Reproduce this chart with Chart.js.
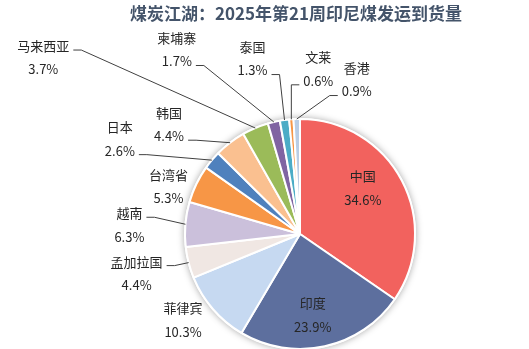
<!DOCTYPE html>
<html>
<head>
<meta charset="utf-8">
<script src="https://cdn.jsdelivr.net/npm/chart.js@4/dist/chart.umd.min.js"></script>
<style>
  html, body { margin: 0; padding: 0; background: #fff; }
  #wrap { width: 529px; height: 349px; }
</style>
</head>
<body>
<div id="wrap"><canvas id="pie" width="529" height="349"></canvas></div>
<script>
const chartTitle = '煤炭江湖：2025年第21周印尼煤发运到货量';
const regions = ['中国', '印度', '菲律宾', '孟加拉国', '越南', '台湾省', '日本', '韩国', '马来西亚', '柬埔寨', '泰国', '文莱', '香港'];
const shares = [34.6, 23.9, 10.3, 4.4, 6.3, 5.3, 2.6, 4.4, 3.7, 1.7, 1.3, 0.6, 0.9];

const sliceColors = ['#F2625E', '#5D6F9E', '#C6D9F1', '#F0E7E3', '#CBC0DB', '#F79646', '#4F81BD',
    '#FAC090', '#9BBB59', '#8064A2', '#4BACC6', '#F79646', '#B9CDE5'];

// label offset from the slice's outer edge midpoint, and which row the leader line hangs on
const labelShift = [[-39, -4], [-12, -43], [-30, -1], [-52, -1], [-56, -11], [-28, -9], [-92, -33],
    [-61, -30], [-212, -82], [-97, -84], [-32, -73], [27, -62], [60, -51]];
const leaderRow = [null, null, null, 'name', 'name', null, 'pct', 'pct', 'name', 'pct', 'pct', 'pct', 'pct'];

const rowGap = 23.5;

const shadowPlugin = {
    id: 'pieShadow',
    beforeDatasetsDraw(chart) {
        const arc = chart.getDatasetMeta(0).data[0];
        if (!arc) return;
        const ctx = chart.ctx;
        ctx.save();
        ctx.shadowColor = 'rgba(0,0,0,0.35)';
        ctx.shadowBlur = 7;
        ctx.beginPath();
        ctx.arc(arc.x, arc.y, arc.outerRadius + 1, 0, Math.PI * 2);
        ctx.fillStyle = '#fff';
        ctx.fill();
        ctx.restore();
    }
};

const labelPlugin = {
    id: 'sliceLabels',
    afterDatasetsDraw(chart) {
        const ctx = chart.ctx;
        const arcs = chart.getDatasetMeta(0).data;
        ctx.save();
        ctx.font = '13px "Noto Sans CJK SC"';
        ctx.textAlign = 'center';
        ctx.textBaseline = 'middle';
        ctx.fillStyle = '#262626';
        ctx.strokeStyle = '#404040';
        ctx.lineWidth = 1;
        arcs.forEach((arc, i) => {
            const mid = (arc.startAngle + arc.endAngle) / 2;
            const ex = arc.x + Math.cos(mid) * arc.outerRadius;
            const ey = arc.y + Math.sin(mid) * arc.outerRadius;
            const nx = ex + labelShift[i][0];
            const ny = ey + labelShift[i][1];
            const pct = shares[i].toFixed(1) + '%';
            ctx.fillText(regions[i], nx, ny);
            ctx.fillText(pct, nx, ny + rowGap);

            const row = leaderRow[i];
            if (!row) return;
            const txt = row === 'name' ? regions[i] : pct;
            const ly = (row === 'name' ? ny : ny + rowGap) + 4;
            const w = ctx.measureText(txt).width;
            const dir = ex > nx ? 1 : -1;
            const sx = nx + dir * (w / 2 + 4);
            ctx.beginPath();
            ctx.moveTo(sx, ly);
            ctx.lineTo(sx + dir * 8, ly);
            ctx.lineTo(ex, ey);
            ctx.stroke();
        });
        ctx.restore();
    }
};

const titlePlugin = {
    id: 'topTitle',
    afterDraw(chart) {
        const ctx = chart.ctx;
        ctx.save();
        ctx.font = 'bold 17px "Noto Sans CJK SC"';
        ctx.fillStyle = '#44546A';
        ctx.textAlign = 'center';
        ctx.textBaseline = 'middle';
        ctx.fillText(chartTitle, 296, 14);
        ctx.restore();
    }
};

new Chart(document.getElementById('pie'), {
    type: 'pie',
    data: {
        labels: regions,
        datasets: [{
            data: shares,
            backgroundColor: sliceColors,
            borderColor: '#ffffff',
            borderWidth: 2,
            radius: 115
        }]
    },
    options: {
        responsive: false,
        animation: false,
        layout: { padding: { left: 121, right: 50, top: 119, bottom: 0 } },
        plugins: {
            legend: { display: false },
            title: { display: false },
            tooltip: { enabled: false }
        }
    },
    plugins: [shadowPlugin, labelPlugin, titlePlugin]
});
</script>
</body>
</html>
